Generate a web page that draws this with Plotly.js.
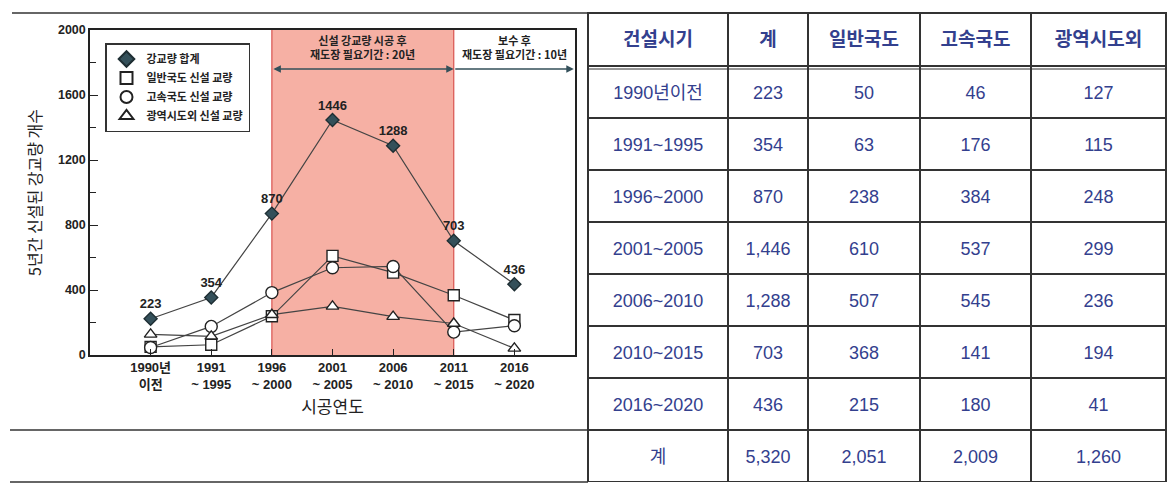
<!DOCTYPE html>
<html><head><meta charset="utf-8">
<script src="https://cdn.plot.ly/plotly-3.0.1.min.js"></script>
<style>body{margin:0;background:#fff}#chart{width:1170px;height:500px}</style>
</head><body><div id="chart"></div>
<script>
// chart data
const periods = ["1990년<br>이전","1991<br>~ 1995","1996<br>~ 2000","2001<br>~ 2005","2006<br>~ 2010","2011<br>~ 2015","2016<br>~ 2020"];
const totalBridges = [223,354,870,1446,1288,703,436];
const nationalRoad = [50,63,238,610,507,368,215];
const expressway = [46,176,384,537,545,141,180];
const metroRoad = [127,115,248,299,236,194,41];
const seriesNames = ["강교량 합계","일반국도 신설 교량","고속국도 신설 교량","광역시도외 신설 교량"];

// table data
const tableHeader = ["건설시기","계","일반국도","고속국도","광역시도외"];
const tablePeriods = ["1990년이전","1991~1995","1996~2000","2001~2005","2006~2010","2010~2015","2016~2020","계"];
const tableTotal = ["223","354","870","1,446","1,288","703","436","5,320"];
const tableNational = ["50","63","238","610","507","368","215","2,051"];
const tableExpress = ["46","176","384","537","545","141","180","2,009"];
const tableMetro = ["127","115","248","299","236","194","41","1,260"];

const W = 1170, H = 500;
const px = x => x / W, py = y => 1 - y / H;
const darkSlate = '#34505a';

const seriesVals = [totalBridges, nationalRoad, expressway, metroRoad];
const symbols = ['diamond','square','circle','triangle-up'];
const sizes = [10,11,12,11];

const traces = [];
// lines (behind)
seriesVals.forEach((v,i)=>{
  traces.push({type:'scatter',mode:'lines',x:periods,y:v,showlegend:false,hoverinfo:'skip',
    line:{color:'#444',width:1.2},xaxis:'x',yaxis:'y'});
});
// markers
seriesVals.forEach((v,i)=>{
  const t = {type:'scatter',mode: i===0?'markers+text':'markers',x:periods,y:v,name:seriesNames[i],
    marker:{symbol:symbols[i],size:sizes[i],color:i===0?darkSlate:'#ffffff',
      line:{color:i===0?'#1e2e33':'#222',width:1.4}},
    xaxis:'x',yaxis:'y'};
  if(i===0){
    t.text = v.map(String);
    t.textposition = 'top center';
    t.textfont = {family:'Liberation Sans, Arial',size:13,color:'#222',weight:'bold'};
  }
  traces.push(t);
});

// table: borders layer (no text) + text layer shifted down to centre text vertically
const navy = '#33408e';
const cellVals = [tablePeriods,tableTotal,tableNational,tableExpress,tableMetro];
const colW = [140,80,112,111,135];
function makeTable(shift, showBorders){
  const hv = showBorders ? tableHeader.map(()=>'') : tableHeader;
  const cv = showBorders ? cellVals.map(c=>c.map(()=>'')) : cellVals;
  return {
    type:'table',
    domain:{x:[px(588),px(1166)],y:[py(482+shift),py(13+shift)]},
    columnwidth:colW,
    header:{values:hv,height:53,align:'center',
      fill:{color:showBorders?'#ffffff':'rgba(0,0,0,0)'},
      line:{color:showBorders?'#333':'rgba(0,0,0,0)',width:1.2},
      font:{family:'Noto Sans CJK KR, Liberation Sans',size:19,color:navy,weight:'bold'}},
    cells:{values:cv,height:52,align:'center',
      fill:{color:showBorders?'#ffffff':'rgba(0,0,0,0)'},
      line:{color:showBorders?'#333':'rgba(0,0,0,0)',width:1.2},
      font:{family:'Liberation Sans, Noto Sans CJK KR',size:18,color:navy}}
  };
}
traces.push(makeTable(0,true));
traces.push(makeTable(11,false));

const layout = {
  width:W,height:H,margin:{l:0,r:0,t:0,b:0},
  paper_bgcolor:'#fff',plot_bgcolor:'#fff',
  font:{family:'Liberation Sans, Noto Sans CJK KR',color:'#222'},
  showlegend:true,
  legend:{x:px(105),y:py(43),xanchor:'left',yanchor:'top',bgcolor:'#fff',bordercolor:'#333',borderwidth:1.5,
    font:{family:'Noto Sans CJK KR',size:11,color:'#222',weight:'bold'},tracegroupgap:0,itemsizing:'constant'},
  xaxis:{domain:[px(90),px(575)],range:[-1,7],type:'category',showgrid:false,zeroline:false,
    showline:true,linecolor:'#222',linewidth:1.5,mirror:true,ticks:'inside',ticklen:6,tickcolor:'#222',
    tickfont:{family:'Liberation Sans, Noto Sans CJK KR',size:13,color:'#222',weight:'bold'},
    title:{text:'시공연도',font:{family:'Noto Sans CJK KR',size:17,color:'#222'},standoff:10}},
  yaxis:{domain:[py(355),py(30)],range:[0,2000],dtick:400,showgrid:false,zeroline:false,
    showline:true,linecolor:'#222',linewidth:1.5,mirror:true,ticks:'inside',ticklen:8,tickcolor:'#222',
    minor:{dtick:200,ticks:'inside',ticklen:6,tickcolor:'#222'},
    tickfont:{family:'Liberation Sans, Arial',size:12.5,color:'#222',weight:'bold'},
    title:{text:'5년간 신설된 강교량 개수',font:{family:'Noto Sans CJK KR',size:16,color:'#222'},standoff:12}},
  shapes:[
    {type:'rect',xref:'x',yref:'y',x0:2,x1:5,y0:0,y1:2000,fillcolor:'#f6b0a4',line:{width:0},layer:'below'},
    {type:'line',xref:'x',yref:'y',x0:2,x1:2,y0:0,y1:2000,line:{color:'#d9534f',width:1.2},layer:'below'},
    {type:'line',xref:'x',yref:'y',x0:5,x1:5,y0:0,y1:2000,line:{color:'#d9534f',width:1.2},layer:'below'},
    {type:'line',xref:'paper',yref:'paper',x0:px(12),x1:px(588),y0:py(13),y1:py(13),line:{color:'#333',width:1.5}},
    {type:'line',xref:'paper',yref:'paper',x0:px(10),x1:px(588),y0:py(430),y1:py(430),line:{color:'#333',width:1.5}},
    {type:'line',xref:'paper',yref:'paper',x0:px(10),x1:px(588),y0:py(482),y1:py(482),line:{color:'#333',width:1.5}},
    {type:'line',xref:'paper',yref:'paper',x0:px(588),x1:px(1166),y0:py(69),y1:py(69),line:{color:'#333',width:1}}
  ],
  annotations:[
    {xref:'x',yref:'y',x:5,y:1760,ax:2,ay:1760,axref:'x',ayref:'y',text:'',showarrow:true,
      arrowhead:2,startarrowhead:2,arrowside:'end+start',arrowsize:1,arrowwidth:1.5,arrowcolor:darkSlate},
    {xref:'x',yref:'y',x:6.98,y:1760,ax:5,ay:1760,axref:'x',ayref:'y',text:'',showarrow:true,
      arrowhead:2,arrowsize:1,arrowwidth:1.5,arrowcolor:darkSlate},
    {xref:'x',yref:'y',x:3.5,y:1895,text:'신설 강교량 시공 후<br>재도장 필요기간 : 20년',showarrow:false,
      font:{family:'Noto Sans CJK KR',size:11,color:'#222',weight:'bold'}},
    {xref:'x',yref:'y',x:6.0,y:1895,text:'보수 후<br>재도장 필요기간 : 10년',showarrow:false,
      font:{family:'Noto Sans CJK KR',size:11,color:'#222',weight:'bold'}}
  ]
};

Plotly.newPlot('chart',traces,layout,{displayModeBar:false,responsive:false});
</script></body></html>
